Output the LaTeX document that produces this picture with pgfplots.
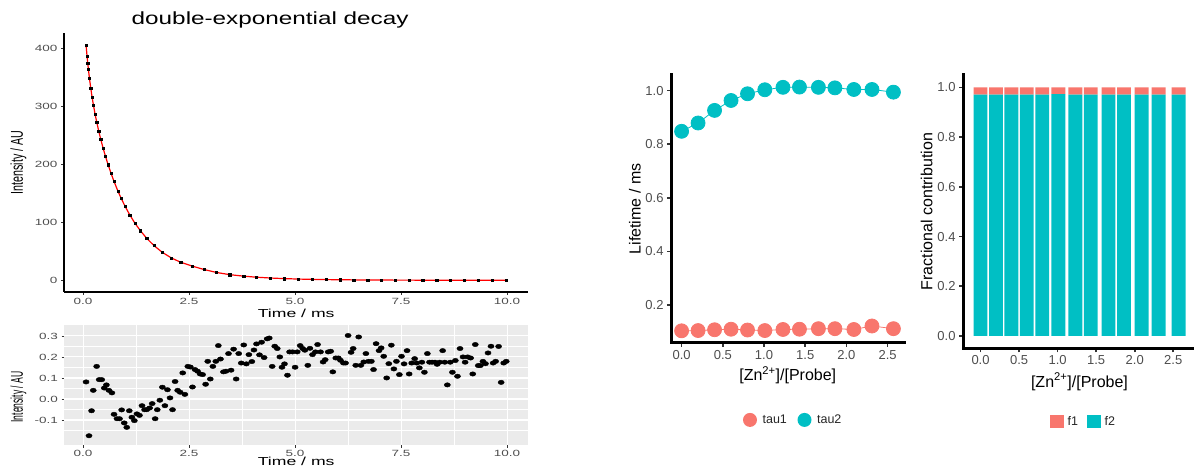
\documentclass[border=0pt]{standalone}
\usepackage{fontspec}
\setmainfont{Liberation Sans}
\usepackage{graphicx}
\usepackage{pgfplots}
\pgfplotsset{compat=1.18}
\definecolor{tauA}{HTML}{F8766D}
\definecolor{tauB}{HTML}{00BFC4}
\definecolor{ticktxt}{HTML}{4D4D4D}
\definecolor{panelgrey}{HTML}{EBEBEB}
\definecolor{tickcol}{HTML}{333333}
\newcommand{\sx}[2][1.5]{\scalebox{#1}[1]{#2}}
\newcommand{\fA}{\fontsize{9bp}{10bp}\selectfont}
\newcommand{\fT}{\fontsize{13bp}{14bp}\selectfont}
\newcommand{\fL}{\fontsize{16bp}{18bp}\selectfont}
\newcommand{\fG}{\fontsize{12.5bp}{14bp}\selectfont}

\pgfplotstableread{
t I
0.071 405.3
0.094 386.3
0.110 374.4
0.126 363.4
0.149 349.0
0.180 331.8
0.212 316.0
0.244 301.9
0.283 286.5
0.322 272.5
0.370 256.9
0.417 242.9
0.472 227.8
0.527 214.0
0.590 199.2
0.660 184.2
0.730 170.3
0.820 154.0
0.900 140.9
0.990 127.5
1.100 112.8
1.220 98.7
1.350 85.5
1.500 72.3
1.670 59.9
1.860 48.5
2.080 38.5
2.300 31.0
2.570 24.5
2.850 18.5
3.140 13.5
3.460 9.6
3.790 7.0
4.090 5.2
4.420 3.8
4.740 2.8
5.080 2.0
5.400 1.5
5.730 1.1
6.060 0.8
6.380 0.6
6.710 0.4
7.030 0.3
7.360 0.2
7.690 0.15
8.010 0.1
8.340 0.08
8.660 0.05
8.990 0.04
9.320 0.03
9.640 0.02
9.970 0.01
}\decay

\pgfplotstableread{
t r
0.07 0.081
0.14 -0.175
0.20 -0.056
0.24 0.041
0.32 0.155
0.38 0.092
0.44 0.092
0.50 0.052
0.55 0.067
0.61 0.041
0.68 0.029
0.73 -0.073
0.80 -0.094
0.86 -0.094
0.91 -0.052
0.97 -0.114
1.03 -0.135
1.09 -0.056
1.15 -0.087
1.21 -0.103
1.27 -0.071
1.33 -0.078
1.39 -0.032
1.45 -0.051
1.50 -0.051
1.57 -0.043
1.63 -0.022
1.70 -0.094
1.75 -0.051
1.81 -0.006
1.87 0.056
1.93 -0.032
1.99 0.044
2.05 0.005
2.11 -0.051
2.17 0.083
2.23 0.041
2.29 0.032
2.35 0.124
2.40 0.022
2.47 0.155
2.53 0.152
2.58 0.057
2.64 0.14
2.70 0.132
2.76 0.119
2.82 0.116
2.89 0.07
2.94 0.179
3.00 0.095
3.06 0.155
3.13 0.179
3.19 0.254
3.24 0.19
3.31 0.129
3.37 0.132
3.43 0.216
3.49 0.137
3.55 0.237
3.61 0.095
3.67 0.216
3.73 0.171
3.79 0.257
3.85 0.167
3.91 0.211
3.98 0.178
4.03 0.233
4.09 0.262
4.16 0.21
4.21 0.27
4.27 0.197
4.34 0.286
4.39 0.29
4.46 0.155
4.52 0.251
4.58 0.24
4.64 0.2
4.69 0.151
4.75 0.167
4.82 0.113
4.87 0.224
4.94 0.224
5.00 0.151
5.05 0.224
5.12 0.254
5.18 0.24
5.23 0.232
5.30 0.16
5.35 0.241
5.41 0.211
5.48 0.224
5.53 0.259
5.60 0.224
5.66 0.176
5.71 0.187
5.78 0.224
5.84 0.227
5.89 0.129
5.96 0.195
6.02 0.195
6.07 0.184
6.14 0.171
6.19 0.171
6.25 0.302
6.32 0.222
6.37 0.24
6.43 0.16
6.50 0.295
6.55 0.16
6.62 0.176
6.67 0.216
6.73 0.179
6.80 0.179
6.85 0.14
6.91 0.263
6.98 0.23
7.03 0.243
7.09 0.203
7.16 0.1
7.21 0.168
7.27 0.256
7.33 0.143
7.39 0.179
7.46 0.116
7.51 0.203
7.57 0.167
7.64 0.23
7.69 0.119
7.75 0.171
7.82 0.192
7.87 0.171
7.93 0.148
7.99 0.175
8.05 0.127
8.12 0.216
8.17 0.175
8.23 0.175
8.30 0.175
8.35 0.165
8.41 0.175
8.48 0.23
8.53 0.175
8.59 0.067
8.66 0.175
8.71 0.127
8.78 0.183
8.83 0.108
8.89 0.24
8.96 0.2
9.01 0.175
9.07 0.2
9.14 0.195
9.19 0.119
9.25 0.259
9.32 0.159
9.37 0.159
9.43 0.179
9.49 0.168
9.55 0.219
9.62 0.251
9.67 0.171
9.73 0.179
9.80 0.25
9.86 0.079
9.92 0.171
9.98 0.179
}\resid

\pgfplotstableread{
x tau1 tau2 f1 f2
0.00 0.104 0.848 0.029 0.971
0.20 0.105 0.879 0.029 0.971
0.40 0.108 0.926 0.029 0.971
0.60 0.110 0.963 0.029 0.971
0.80 0.107 0.988 0.029 0.971
1.01 0.105 1.003 0.027 0.973
1.23 0.109 1.012 0.029 0.971
1.43 0.110 1.013 0.029 0.971
1.66 0.112 1.012 0.029 0.971
1.86 0.112 1.010 0.029 0.971
2.09 0.109 1.004 0.029 0.971
2.31 0.122 1.004 0.029 0.971
2.57 0.112 0.994 0.029 0.971
}\life

\begin{document}
\begin{tikzpicture}
\useasboundingbox (0,0) rectangle (1194bp,468bp);

% ---------- Panel A: decay ----------
\begin{axis}[
  at={(64bp,176bp)}, anchor=south west, scale only axis,
  width=464.3bp, height=259bp,
  xmin=-0.45, xmax=10.5, ymin=-20.3, ymax=426.3,
  axis x line*=bottom, axis y line*=left,
  axis line style={-, line width=1.1bp, black},
  tick align=outside, major tick length=3bp,
  tick style={line width=0.7bp, color=tickcol},
  xtick={0,2.5,5,7.5,10},
  xticklabels={\sx{0.0},\sx{2.5},\sx{5.0},\sx{7.5},\sx{10.0}},
  ytick={0,100,200,300,400},
  yticklabels={\sx{0},\sx{100},\sx{200},\sx{300},\sx{400}},
  tick label style={font=\fA, color=ticktxt},
  xlabel={\sx[1.52]{Time / ms}},
  xlabel style={font=\fontsize{11.6bp}{12bp}\selectfont, at={(axis description cs:0.5,-0.082)}, anchor=center},
  ylabel={\scalebox{1}[1.6]{Intensity / AU}},
  ylabel style={font=\fontsize{10.7bp}{12bp}\selectfont, at={(axis description cs:-0.098,0.5)}, anchor=center},
  title={\sx[1.38]{double-exponential decay}},
  every axis title shift=0pt,
  title style={font=\fontsize{17.6bp}{19bp}\selectfont, at={(axis description cs:0.444,1.05)}, anchor=center, yshift=0pt},
]
\addplot[only marks, mark=square*, mark size=1.1bp, black] table[x=t, y=I] {\decay};
\addplot[red, line width=1.2bp, mark=none] table[x=t, y=I] {\decay};
\end{axis}

% ---------- Panel B: residuals ----------
\begin{axis}[
  at={(64bp,23bp)}, anchor=south west, scale only axis,
  width=464.3bp, height=120bp,
  xmin=-0.45, xmax=10.5, ymin=-0.219, ymax=0.352,
  axis background/.style={fill=panelgrey},
  axis line style={draw=none},
  xtick pos=bottom, ytick pos=left,
  tick align=outside, major tick length=2.5bp, minor tick length=0bp,
  tick style={line width=0.7bp, color=tickcol},
  xtick={0,2.5,5,7.5,10},
  xticklabels={\sx{0.0},\sx{2.5},\sx{5.0},\sx{7.5},\sx{10.0}},
  ytick={-0.1,0,0.1,0.2,0.3},
  yticklabels={\sx{-0.1},\sx{0.0},\sx{0.1},\sx{0.2},\sx{0.3}},
  minor xtick={1.25,3.75,6.25,8.75},
  minor ytick={-0.15,-0.05,0.05,0.15,0.25},
  grid=both,
  major grid style={white, line width=1.1bp},
  minor grid style={white, line width=0.55bp},
  tick label style={font=\fA, color=ticktxt},
  xticklabel style={yshift=1.2bp},
  xlabel={\sx[1.52]{Time / ms}},
  xlabel style={font=\fontsize{11.6bp}{12bp}\selectfont, at={(axis description cs:0.5,-0.14)}, anchor=center},
  ylabel={\scalebox{0.8}[1.6]{Intensity / AU}},
  ylabel style={font=\fontsize{10.7bp}{12bp}\selectfont, at={(axis description cs:-0.098,0.4)}, anchor=center},
]
\addplot[only marks, mark=*, mark size=2.2bp, black, mark options={xscale=1.4}] table[x=t, y=r] {\resid};
\end{axis}

% ---------- Panel C: lifetimes ----------
\begin{axis}[
  at={(671bp,125bp)}, anchor=south west, scale only axis,
  width=233bp, height=268bp,
  xmin=-0.1285, xmax=2.6985, ymin=0.0586, ymax=1.058,
  axis x line*=bottom, axis y line*=left,
  axis line style={-, line width=3bp, black, line cap=rect},
  tick align=outside, major tick length=4bp,
  tick style={line width=1.6bp, color=tickcol},
  xtick={0,0.5,1,1.5,2,2.5},
  xticklabels={0.0,0.5,1.0,1.5,2.0,2.5},
  ytick={0.2,0.4,0.6,0.8,1.0},
  yticklabels={0.2,0.4,0.6,0.8,1.0},
  tick label style={font=\fT, color=ticktxt},
  xlabel={[Zn\textsuperscript{2+}]/[Probe]},
  xlabel style={font=\fL, at={(axis description cs:0.501,-0.119)}, anchor=center},
  ylabel={Lifetime / ms},
  ylabel style={font=\fL, at={(axis description cs:-0.1545,0.5)}, anchor=center},
  legend columns=2,
  legend style={at={(axis description cs:0.521,-0.287)}, anchor=center, draw=none, fill=none,
    font=\fG, text=black!85, column sep=2bp, /tikz/every even column/.append style={column sep=7bp}},
  legend image code/.code={\path[draw=none, fill=none] (-8.6bp,-8.6bp) rectangle (8.6bp,8.6bp); \fill[#1, draw=none] (0,0) circle (7bp);},
]
\addplot[color=tauA, line width=0.8bp, mark=*, mark size=7bp, mark options={solid, fill=tauA, draw=tauA}] table[x=x, y=tau1] {\life};
\addlegendentry{tau1}
\addplot[color=tauB, line width=0.8bp, mark=*, mark size=7bp, mark options={solid, fill=tauB, draw=tauB}] table[x=x, y=tau2] {\life};
\addlegendentry{tau2}
\end{axis}

% ---------- Panel D: fractional contribution ----------
\begin{axis}[
  at={(963bp,119.6bp)}, anchor=south west, scale only axis,
  width=233.4bp, height=273.4bp,
  xmin=-0.2275, xmax=2.80, ymin=-0.05, ymax=1.05,
  ybar stacked, bar width=0.18,
  axis x line*=bottom, axis y line*=left,
  axis line style={-, line width=3bp, black, line cap=rect},
  tick align=outside, major tick length=4bp,
  tick style={line width=1.6bp, color=tickcol},
  xtick={0,0.5,1,1.5,2,2.5},
  xticklabels={0.0,0.5,1.0,1.5,2.0,2.5},
  ytick={0,0.2,0.4,0.6,0.8,1.0},
  yticklabels={0.0,0.2,0.4,0.6,0.8,1.0},
  tick label style={font=\fT, color=ticktxt},
  xlabel={[Zn\textsuperscript{2+}]/[Probe]},
  xlabel style={font=\fL, at={(axis description cs:0.499,-0.122)}, anchor=center},
  ylabel={Fractional contribution},
  ylabel style={font=\fL, at={(axis description cs:-0.1555,0.5)}, anchor=center},
  legend columns=2, reverse legend,
  legend style={at={(axis description cs:0.516,-0.268)}, anchor=center, draw=none, fill=none,
    font=\fG, text=black!85, column sep=2bp, /tikz/every even column/.append style={column sep=7bp}},
]
\addplot[fill=tauB, draw=none, legend image code/.code={\fill[tauB] (-6.8bp,-6.6bp) rectangle (6.8bp,6.6bp);}] table[x=x, y=f2] {\life};
\addlegendentry{f2}
\addplot[fill=tauA, draw=none, legend image code/.code={\fill[tauA] (-6.8bp,-6.6bp) rectangle (6.8bp,6.6bp);}] table[x=x, y=f1] {\life};
\addlegendentry{f1}
\end{axis}
\end{tikzpicture}
\end{document}
